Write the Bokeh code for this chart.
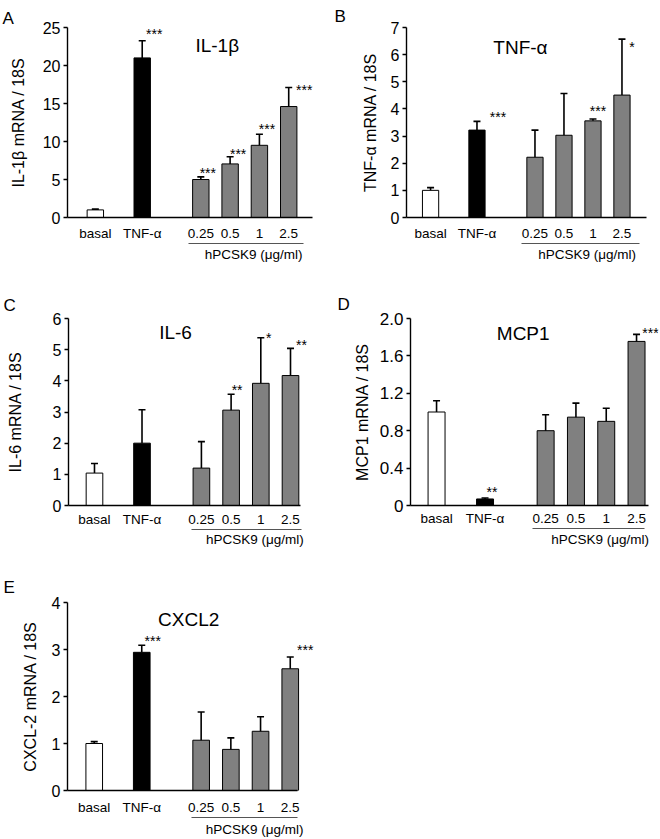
from bokeh.plotting import figure
from bokeh.models import (Range1d, LinearAxis, FixedTicker, Whisker, TeeHead,
                          ColumnDataSource)
from bokeh.layouts import row, column
from bokeh.core.properties import value
from bokeh.embed import file_html
from bokeh.resources import INLINE

FONT = "Liberation Sans"

# ---------------- data ----------------
CATEGORIES = ["basal", "TNF-α", "0.25", "0.5", "1", "2.5"]
GROUP_LABEL = "hPCSK9 (μg/ml)"

IL1B_MEAN = [1.0, 21.0, 5.0, 7.05, 9.5, 14.6]
IL1B_ERR = [0.1, 2.25, 0.35, 0.95, 1.45, 2.5]
IL1B_SIG = ["", "***", "***", "***", "***", "***"]

TNF_MEAN = [1.0, 3.22, 2.22, 3.03, 3.56, 4.51]
TNF_ERR = [0.1, 0.32, 1.0, 1.54, 0.07, 2.06]
TNF_SIG = ["", "***", "", "", "***", "*"]

IL6_MEAN = [1.04, 2.0, 1.2, 3.06, 3.92, 4.17]
IL6_ERR = [0.31, 1.07, 0.85, 0.51, 1.46, 0.87]
IL6_SIG = ["", "", "", "**", "*", "**"]

MCP1_MEAN = [1.0, 0.07, 0.8, 0.945, 0.9, 1.755]
MCP1_ERR = [0.12, 0.01, 0.17, 0.15, 0.14, 0.075]
MCP1_SIG = ["", "**", "", "", "", "***"]

CXCL2_MEAN = [1.0, 2.94, 1.07, 0.875, 1.26, 2.59]
CXCL2_ERR = [0.04, 0.15, 0.6, 0.245, 0.31, 0.25]
CXCL2_SIG = ["", "***", "", "", "", "***"]

IL1B_TICKS = [0, 5, 10, 15, 20, 25]
TNF_TICKS = [0, 1, 2, 3, 4, 5, 6, 7]
IL6_TICKS = [0, 1, 2, 3, 4, 5, 6]
MCP1_TICKS = [0, 0.4, 0.8, 1.2, 1.6, 2.0]
MCP1_TICK_LABELS = ["0", "0.4", "0.8", "1.2", "1.6", "2.0"]
CXCL2_TICKS = [0, 1, 2, 3, 4]

# ---------------- layout / style ----------------
X_POS = [0, 16, 36, 46, 56, 66]      # bar slots (tenths of a slot)
BAR_W = 5.6
GROUP_TICK = 54
FILLS = ["white", "black", "#808080", "#808080", "#808080", "#808080"]


def make_panel(letter, title, ylabel, mean, err, sig, yticks, ytick_labels, L):
    w, h = 330, L["h"]
    bl, br, bt, bb = L["bl"], L["br"], L["bt"], L["bb"]
    fw = w - bl - br
    x_end = L["x0"] + fw / L["ppu"]
    p = figure(width=w, height=h, output_backend="svg", toolbar_location=None,
               x_range=Range1d(L["x0"], x_end),
               y_range=Range1d(yticks[0], yticks[-1]),
               min_border_left=bl, min_border_right=br,
               min_border_top=bt, min_border_bottom=bb)
    p.outline_line_color = None
    p.xgrid.visible = False
    p.ygrid.visible = False
    p.background_fill_color = "white"
    p.border_fill_color = "white"

    # panel letter as the figure title, pushed to the left edge
    p.title.text = letter
    p.title.align = "left"
    p.title.offset = L["lx"]
    p.title.standoff = L["lso"]
    p.title.text_font = FONT
    p.title.text_font_size = "17px"
    p.title.text_font_style = "normal"
    p.title.text_color = "black"

    top = [m + e for m, e in zip(mean, err)]
    src = ColumnDataSource(dict(
        x=X_POS, mean=mean, top=top, color=FILLS, sig=sig,
        dx=L["sdx"], dy=[-(d - 8) for d in L["sdy"]]))

    p.vbar(x="x", top="mean", width=BAR_W, fill_color="color",
           line_color="black", line_width=1, source=src)
    p.add_layout(Whisker(source=src, base="x", lower="mean", upper="top",
                         dimension="height", line_color="black", line_width=1.6,
                         lower_head=None, level="glyph",
                         upper_head=TeeHead(size=7, line_color="black",
                                            line_width=1.6)))
    p.text(x="x", y="top", text="sig", x_offset="dx", y_offset="dy",
           source=src, text_font=value(FONT), text_font_size="14px",
           text_align="center", text_baseline="alphabetic",
           text_color="black")
    p.text(x=[L["tx"]], y=[L["ty"]], text=[title], text_font=value(FONT),
           text_font_size="19px", text_align="center",
           text_baseline="alphabetic", text_color="black")

    ya = p.yaxis[0]
    ya.ticker = FixedTicker(ticks=yticks)
    ya.major_label_overrides = {t: s for t, s in zip(yticks, ytick_labels)}
    ya.minor_tick_line_color = None
    ya.major_tick_in = 0
    ya.major_tick_out = 4
    ya.major_tick_line_width = 1.3
    ya.major_tick_line_color = "black"
    ya.axis_line_color = "black"
    ya.axis_line_width = 1.4
    ya.major_label_standoff = 3
    ya.major_label_text_font = FONT
    ya.major_label_text_font_size = L["ytf"]
    ya.major_label_text_color = "black"
    ya.axis_label = ylabel
    ya.axis_label_text_font = FONT
    ya.axis_label_text_font_size = "16px"
    ya.axis_label_text_font_style = "normal"
    ya.axis_label_text_color = "black"
    ya.axis_label_standoff = L["yls"]

    xa = p.xaxis[0]
    xa.ticker = FixedTicker(ticks=X_POS)
    xa.major_label_overrides = {t: s for t, s in zip(X_POS, CATEGORIES)}
    xa.bounds = (L["x0"], L["axis_end"])
    xa.minor_tick_line_color = None
    xa.major_tick_line_color = None
    xa.major_tick_in = 0
    xa.major_tick_out = 0
    xa.axis_line_color = "black"
    xa.axis_line_width = 1.4
    xa.major_label_standoff = L["xso"]
    xa.axis_label_standoff = L["xals"]
    xa.major_label_text_font = FONT
    xa.major_label_text_font_size = "13.5px"
    xa.major_label_text_color = "black"

    ga = LinearAxis(ticker=FixedTicker(ticks=[GROUP_TICK]),
                    major_label_overrides={GROUP_TICK: GROUP_LABEL},
                    bounds=L["brk"])
    ga.minor_tick_line_color = None
    ga.major_tick_line_color = None
    ga.major_tick_in = 0
    ga.major_tick_out = 0
    ga.axis_line_color = "#555555"
    ga.axis_line_width = 1.2
    ga.major_label_standoff = L["gso"]
    ga.axis_label_standoff = 0
    ga.major_label_text_font = FONT
    ga.major_label_text_font_size = "13.5px"
    ga.major_label_text_color = "black"
    p.add_layout(ga, "below")
    return p


LAY_A = dict(h=280, bl=67, br=2, bt=23, bb=63, x0=-9.5, ppu=2.93, axis_end=74.1,
             tx=41.6, ty=22.6, lx=-65, lso=0, yls=13, ytf="16px",
             xso=8, xals=7, gso=3, brk=(31.9, 71.0),
             sdx=[0, 12, 7, 8, 7.5, 15.5], sdy=[0, 14.5, 12, 11, 13, 5.5])
LAY_B = dict(h=280, bl=76, br=2, bt=27, bb=63, x0=-8.3, ppu=2.9, axis_end=74.5,
             tx=31, ty=6.27, lx=-72, lso=4, yls=9, ytf="16px",
             xso=8, xals=8, gso=3, brk=(31.5, 72.0),
             sdx=[0, 21, 0, 0, 5, 10], sdy=[0, 12, 0, 0, 16, 0.5])
LAY_C = dict(h=280, bl=68, br=2, bt=32, bb=55, x0=-8.75, ppu=2.97, axis_end=69.4,
             tx=27.3, ty=5.54, lx=-65, lso=8, yls=26, ytf="16px",
             xso=6, xals=2, gso=2, brk=(32.6, 69.7),
             sdx=[0, 0, 0, 6, 8, 11], sdy=[0, 0, 0, 12, 8, 11.5])
LAY_D = dict(h=280, bl=80, br=2, bt=38, bb=54, x0=-8.6, ppu=3.03, axis_end=70.0,
             tx=28.6, ty=1.837, lx=-73, lso=9, yls=6, ytf="17px",
             xso=5, xals=5, gso=3, brk=(31.7, 68.6),
             sdx=[0, 7, 0, 0, 0, 14], sdy=[0, 14.5, 0, 0, 0, 9])
LAY_E = dict(h=279, bl=67, br=2, bt=42, bb=48, x0=-9.0, ppu=2.97, axis_end=68.5,
             tx=31.8, ty=3.63, lx=-64, lso=12, yls=10, ytf="16px",
             xso=9, xals=2, gso=4, brk=(32.6, 68.4),
             sdx=[0, 11, 0, 0, 0, 15], sdy=[0, 12, 0, 0, 0, 15])

pA = make_panel("A", "IL-1β", "IL-1β mRNA / 18S", IL1B_MEAN, IL1B_ERR, IL1B_SIG,
                IL1B_TICKS, [str(t) for t in IL1B_TICKS], LAY_A)
pB = make_panel("B", "TNF-α", "TNF-α mRNA / 18S", TNF_MEAN, TNF_ERR, TNF_SIG,
                TNF_TICKS, [str(t) for t in TNF_TICKS], LAY_B)
pC = make_panel("C", "IL-6", "IL-6 mRNA / 18S", IL6_MEAN, IL6_ERR, IL6_SIG,
                IL6_TICKS, [str(t) for t in IL6_TICKS], LAY_C)
pD = make_panel("D", "MCP1", "MCP1 mRNA / 18S", MCP1_MEAN, MCP1_ERR, MCP1_SIG,
                MCP1_TICKS, MCP1_TICK_LABELS, LAY_D)
pE = make_panel("E", "CXCL2", "CXCL-2 mRNA / 18S", CXCL2_MEAN, CXCL2_ERR, CXCL2_SIG,
                CXCL2_TICKS, [str(t) for t in CXCL2_TICKS], LAY_E)

layout = column(row(pA, pB), row(pC, pD), pE)

open("out.html", "w").write(file_html(layout, INLINE))
